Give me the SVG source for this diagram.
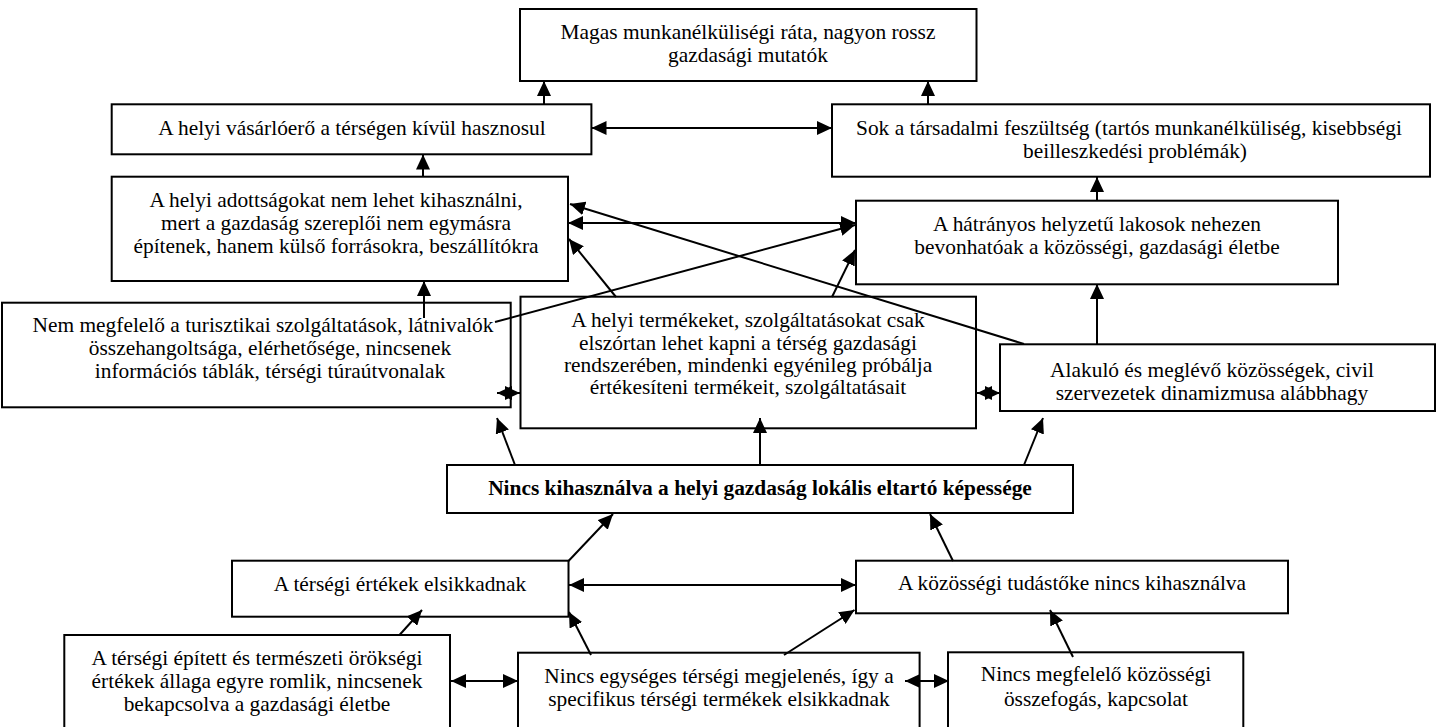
<svg xmlns="http://www.w3.org/2000/svg" width="1443" height="727" viewBox="0 0 1443 727">
<style>
.b{fill:#fff;stroke:#000;stroke-width:2}
.t{font-size:21.4px;fill:#000;text-anchor:middle}
.bold{font-weight:bold}
.c line{stroke:#000;stroke-width:2;marker-end:url(#ah)}
.c line.d{marker-start:url(#ah)}
</style>
<defs>
<marker id="ah" viewBox="0 0 15 14" refX="15" refY="7" markerWidth="15" markerHeight="14" markerUnits="userSpaceOnUse" orient="auto-start-reverse"><path d="M0,0 L15,7 L0,14 z" fill="#000"/></marker>
</defs>
<rect width="1443" height="727" fill="#fff"/>
<g font-family="Liberation Serif, Times New Roman, DejaVu Serif, serif">
<g id="n1"><rect class="b" x="520" y="9" width="456.5" height="72"/><text class="t" x="748" y="39">Magas munkanélküliségi ráta, nagyon rossz</text><text class="t" x="748" y="62">gazdasági mutatók</text></g>
<g id="n2"><rect class="b" x="111.7" y="104.3" width="479.7" height="50"/><text class="t" x="352" y="135">A helyi vásárlóerő a térségen kívül hasznosul</text></g>
<g id="n3"><rect class="b" x="832" y="104.3" width="598" height="72.4"/><text class="t" x="1129" y="135">Sok a társadalmi feszültség (tartós munkanélküliség, kisebbségi</text><text class="t" x="1135" y="158">beilleszkedési problémák)</text></g>
<g id="n4"><rect class="b" x="111.7" y="176.7" width="456.3" height="104.3"/><text class="t" x="336" y="207">A helyi adottságokat nem lehet kihasználni,</text><text class="t" x="336" y="230">mert a gazdaság szereplői nem egymásra</text><text class="t" x="336" y="253">építenek, hanem külső forrásokra, beszállítókra</text></g>
<g id="n5"><rect class="b" x="856" y="200.7" width="482" height="83.6"/><text class="t" x="1097" y="231">A hátrányos helyzetű lakosok nehezen</text><text class="t" x="1097" y="254">bevonhatóak a közösségi, gazdasági életbe</text></g>
<g id="n6"><rect class="b" x="2" y="302.7" width="508.7" height="104.6"/><text class="t" x="263" y="332">Nem megfelelő a turisztikai szolgáltatások, látnivalók</text><text class="t" x="270" y="355">összehangoltsága, elérhetősége, nincsenek</text><text class="t" x="270" y="378">információs táblák, térségi túraútvonalak</text></g>
<g id="n7"><rect class="b" x="520.5" y="296.7" width="455.5" height="131.6"/><text class="t" x="748" y="327">A helyi termékeket, szolgáltatásokat csak</text><text class="t" x="748" y="350">elszórtan lehet kapni a térség gazdasági</text><text class="t" x="748" y="372">rendszerében, mindenki egyénileg próbálja</text><text class="t" x="748" y="394">értékesíteni termékeit, szolgáltatásait</text></g>
<g id="n8"><rect class="b" x="1000" y="344.3" width="435" height="66.7"/><text class="t" x="1212" y="377">Alakuló és meglévő közösségek, civil</text><text class="t" x="1212" y="400">szervezetek dinamizmusa alábbhagy</text></g>
<g id="n9"><rect class="b" x="447" y="465" width="626" height="48"/><text class="t bold" x="760" y="495">Nincs kihasználva a helyi gazdaság lokális eltartó képessége</text></g>
<g id="n10"><rect class="b" x="232" y="560.7" width="336.5" height="56"/><text class="t" x="400" y="591">A térségi értékek elsikkadnak</text></g>
<g id="n11"><rect class="b" x="856" y="560.7" width="432" height="52.6"/><text class="t" x="1072" y="590">A közösségi tudástőke nincs kihasználva</text></g>
<g id="n12"><rect class="b" x="64.3" y="635" width="385.7" height="100"/><text class="t" x="257" y="665">A térségi épített és természeti örökségi</text><text class="t" x="257" y="688">értékek állaga egyre romlik, nincsenek</text><text class="t" x="257" y="711">bekapcsolva a gazdasági életbe</text></g>
<g id="n13"><rect class="b" x="518" y="652.7" width="401.6" height="90"/><text class="t" x="719" y="683">Nincs egységes térségi megjelenés, így a</text><text class="t" x="719" y="706">specifikus térségi termékek elsikkadnak</text></g>
<g id="n14"><rect class="b" x="948" y="652.3" width="295.3" height="90"/><text class="t" x="1096" y="681">Nincs megfelelő közösségi</text><text class="t" x="1096" y="706">összefogás, kapcsolat</text></g>
</g>
<g id="connectors" class="c">
<line x1="544" y1="104" x2="544" y2="81"/>
<line x1="928" y1="104" x2="928" y2="81"/>
<line class="d" x1="591.5" y1="128" x2="832" y2="128"/>
<line x1="423" y1="177" x2="423" y2="154.5"/>
<line x1="1097" y1="201" x2="1097" y2="177"/>
<line x1="424" y1="318" x2="424" y2="281"/>
<line x1="1024" y1="344" x2="570" y2="204"/>
<line class="d" x1="568" y1="223" x2="856" y2="223"/>
<line x1="495" y1="322" x2="855" y2="225"/>
<line x1="616" y1="297" x2="569" y2="239"/>
<line x1="832" y1="297" x2="855" y2="250"/>
<line x1="1097" y1="344" x2="1097" y2="284"/>
<line class="d" x1="497" y1="393" x2="520" y2="393"/>
<line class="d" x1="977" y1="393" x2="1000" y2="393"/>
<line x1="515" y1="465" x2="497" y2="418"/>
<line x1="760" y1="465" x2="760" y2="418"/>
<line x1="1024" y1="465" x2="1043" y2="418"/>
<line x1="568.5" y1="561" x2="613" y2="514"/>
<line x1="953" y1="561" x2="930" y2="514"/>
<line class="d" x1="569" y1="585" x2="856" y2="585"/>
<line x1="399.5" y1="635" x2="422" y2="610"/>
<line class="d" x1="451" y1="681" x2="518" y2="681"/>
<line x1="591" y1="655" x2="569" y2="612"/>
<line x1="784" y1="655" x2="854.5" y2="610"/>
<line class="d" x1="905" y1="681" x2="949" y2="681"/>
<line x1="1073" y1="657" x2="1050" y2="610"/>
</g>
</svg>
